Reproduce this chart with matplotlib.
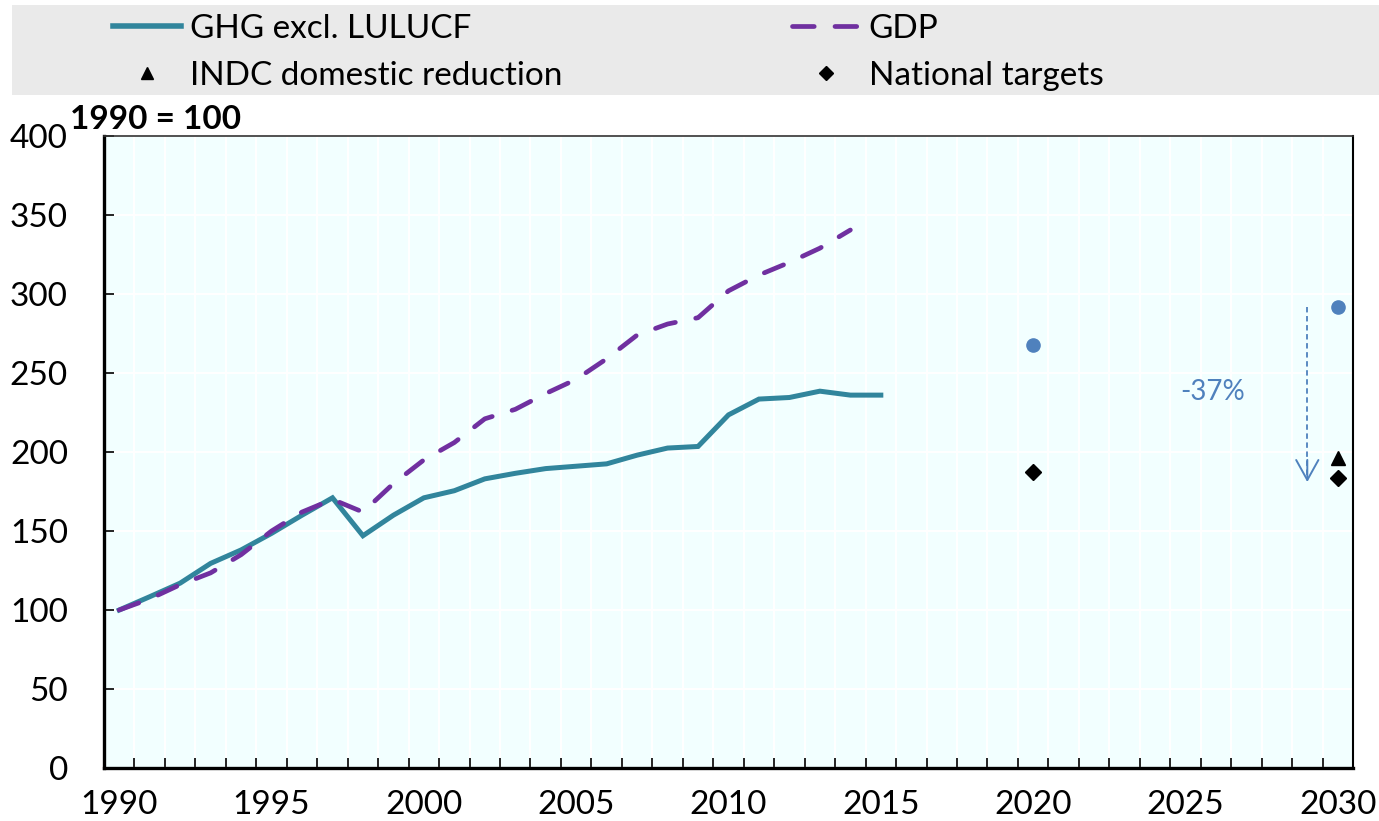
import matplotlib
matplotlib.use('Agg')
import matplotlib.pyplot as plt
from matplotlib.patches import Rectangle
from matplotlib.lines import Line2D
from matplotlib.ticker import FixedLocator, NullFormatter

plt.rcParams['font.family'] = ['Lato', 'DejaVu Sans']

# ---------------- data ----------------
hist_years = list(range(1990, 2016))
ghg = [100, 108.4, 117, 129.5, 138, 148.5, 160, 171, 147, 160,
       171, 175.5, 183, 186.5, 189.5, 191, 192.5, 198, 202.5, 203.5,
       223.5, 233.5, 234.5, 238.5, 236, 236]
gdp_years = list(range(1990, 2015))
gdp = [100, 107, 116, 123.5, 135, 150, 162, 170, 162, 180,
       195, 206, 221, 227, 237, 246, 259, 274, 281, 285,
       302, 312, 320, 329, 340.5]
bau_years = [2020, 2030]
bau = [268, 291.6]
target_years = [2020, 2030]
targets = [187.5, 183.3]
indc_years = [2030]
indc = [196.4]
arrow_year = 2029
arrow_from = 291.6
arrow_to = 181
arrow_label = '-37%'
label_pos = (2025.9, 238)
xtick_years = list(range(1990, 2031, 5))
yticks = list(range(0, 401, 50))

TEAL = '#31859C'
PURPLE = '#7030A0'
BLUE = '#4F81BD'

fig = plt.figure(figsize=(13.79, 8.21), dpi=100)
ax = fig.add_axes([104/1379, 1-768/821, (1353-104)/1379, (768-136)/821])
ax.set_facecolor('#F2FFFF')

ax.plot(hist_years, ghg, color=TEAL, lw=3.6, solid_joinstyle='miter', zorder=3,
        label='GHG excl. LULUCF')
ax.plot(gdp_years, gdp, color=PURPLE, lw=3.4, linestyle=(0, (4.4, 4.4)),
        dash_capstyle='round', zorder=3, label='GDP')
ax.plot(bau_years, bau, linestyle='none', marker='o', ms=9.5, color=BLUE, zorder=4)
ax.plot(target_years, targets, linestyle='none', marker='D', ms=8, color='black',
        zorder=4, label='National targets')
ax.plot(indc_years, indc, linestyle='none', marker='^', ms=10, color='black',
        zorder=4, label='INDC domestic reduction')

# arrow
ax.plot([arrow_year, arrow_year], [arrow_from, arrow_to + 3], color=BLUE, lw=1.3,
        linestyle=(0, (3, 2)), zorder=3)
ax.annotate('', xy=(arrow_year, arrow_to), xytext=(arrow_year, arrow_to + 14),
            arrowprops=dict(arrowstyle='->,head_length=0.9,head_width=0.5',
                            mutation_scale=16, color=BLUE, lw=1.4,
                            shrinkA=0, shrinkB=0), zorder=3)
ax.text(label_pos[0], label_pos[1], arrow_label, color=BLUE, fontsize=20,
        ha='center', va='center')

ax.set_xlim(1989.5, 2030.5)
ax.set_ylim(0, 400)
ax.xaxis.set_major_locator(FixedLocator(xtick_years))
ax.xaxis.set_minor_locator(FixedLocator([y + 0.5 for y in range(1990, 2030)]))
ax.xaxis.set_minor_formatter(NullFormatter())
ax.set_yticks(yticks)
ax.tick_params(axis='x', which='major', length=0, labelsize=24, pad=16)
ax.tick_params(axis='x', which='minor', direction='in', length=7, width=1.2)
ax.tick_params(axis='y', which='major', direction='in', length=7, width=1.2,
               labelsize=24, pad=26)

ax.set_axisbelow(True)
ax.grid(which='minor', axis='x', color='white', lw=1.5)
ax.grid(which='major', axis='y', color='white', lw=1.5)
ax.xaxis.grid(False, which='major')

ax.spines['left'].set_linewidth(2.4)
ax.spines['bottom'].set_linewidth(2.4)
ax.spines['right'].set_linewidth(1.5)
ax.spines['top'].set_linewidth(1.2)
ax.spines['top'].set_color('#333333')

fig.text(70/1379, 1-129/821, '1990 = 100', fontsize=24, fontweight='bold',
         ha='left', va='baseline')

# legend band
fig.add_artist(Rectangle((12/1379, 1-95/821), (1379-12)/1379, 90/821,
                         transform=fig.transFigure, facecolor='#EAEAEA',
                         edgecolor='none', zorder=0))
h_ghg = Line2D([], [], color=TEAL, lw=4)
h_gdp = Line2D([], [], color=PURPLE, lw=3.4, linestyle=(0, (4.6, 4.4)),
               dash_capstyle='round')
h_indc = Line2D([], [], color='black', linestyle='none', marker='^', ms=9)
h_nat = Line2D([], [], color='black', linestyle='none', marker='D', ms=7)
leg = fig.legend([h_ghg, h_indc, h_gdp, h_nat],
                 ['GHG excl. LULUCF', 'INDC domestic reduction', 'GDP', 'National targets'],
                 ncol=2, loc='upper left', bbox_to_anchor=(113/1379, 1-14/821),
                 frameon=False, fontsize=24, handlelength=2.05, handletextpad=0.25,
                 columnspacing=6.9, labelspacing=0.5, borderpad=0, borderaxespad=0,
                 numpoints=1)
leg.set_zorder(2)

fig.savefig('out.png', dpi=100)
